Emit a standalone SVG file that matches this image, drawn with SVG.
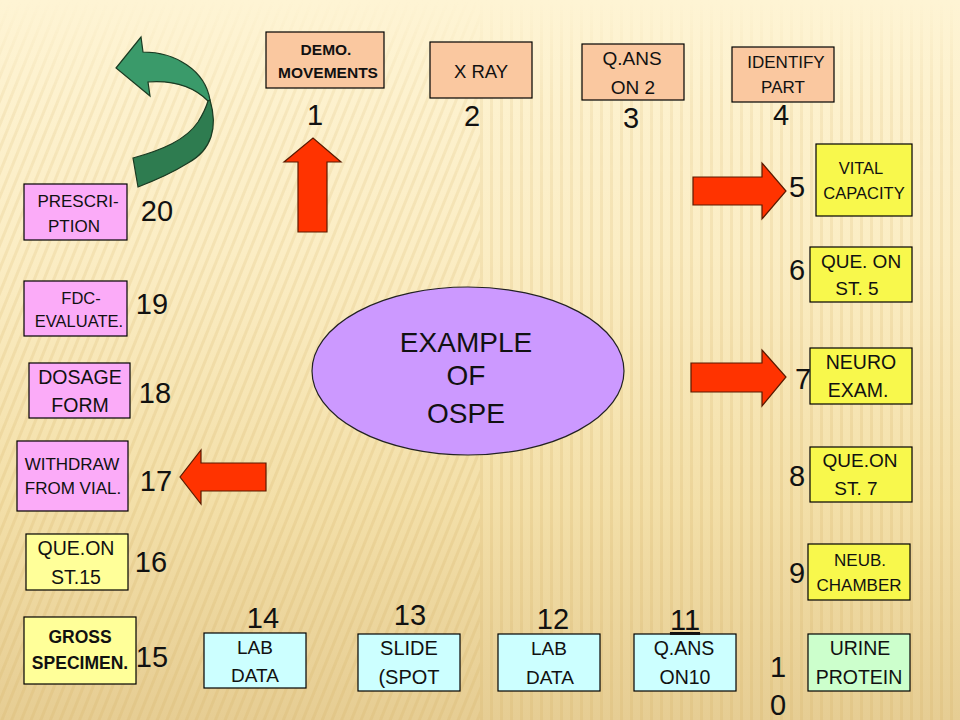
<svg xmlns="http://www.w3.org/2000/svg" width="960" height="720" viewBox="0 0 960 720">
<style>
.box{stroke:#000;stroke-width:1.2}
.peach{fill:#FAC8A0}
.yel{fill:#F8F84C}
.lyel{fill:#FFFF99}
.pink{fill:#FBABF8}
.cyan{fill:#CCFFFF}
.green{fill:#CCFFCC}
.t{font-family:"Liberation Sans",Arial,sans-serif;fill:#111;text-anchor:middle}
.b{font-weight:bold}
.num{font-family:"Liberation Sans",Arial,sans-serif;font-size:29px;fill:#111;text-anchor:middle}
.red{fill:#FF3300;stroke:#5a1a00;stroke-width:1.2;stroke-linejoin:miter}
</style>
<defs>
<linearGradient id="bg" x1="0" y1="0" x2="0" y2="1">
<stop offset="0" stop-color="#FEF4D4"/>
<stop offset="0.35" stop-color="#FBEDC4"/>
<stop offset="0.7" stop-color="#F3DFA8"/>
<stop offset="1" stop-color="#E6CD93"/>
</linearGradient>
<pattern id="stripes" width="9" height="9" patternUnits="userSpaceOnUse" patternTransform="rotate(22)">
<rect x="0" y="0" width="3" height="9" fill="#D9B870"/>
</pattern>
<pattern id="vstripes" width="10" height="10" patternUnits="userSpaceOnUse">
<rect x="0" y="0" width="3" height="10" fill="#D9B870"/>
</pattern>
<linearGradient id="fade" x1="0" y1="0" x2="0" y2="1">
<stop offset="0" stop-color="#fff" stop-opacity="0"/>
<stop offset="0.15" stop-color="#fff" stop-opacity="0.6"/>
<stop offset="1" stop-color="#fff" stop-opacity="1"/>
</linearGradient>
<mask id="m"><rect width="960" height="720" fill="url(#fade)"/></mask>
</defs>
<rect width="960" height="720" fill="url(#bg)"/>
<g mask="url(#m)" opacity="0.3">
<rect x="0" y="0" width="480" height="720" fill="url(#stripes)"/>
<rect x="480" y="0" width="480" height="720" fill="url(#vstripes)"/>
</g>

<g id="connectors">
<path id="green-arrow-top" d="M143,52 C175,52 205,70 210,100 L208,101 C195,88 175,80 148,82 L150,96 L116,68 L141,37 Z" fill="#3A9A6A" stroke="#1a3a22" stroke-width="1.2"/>
<path id="green-arrow-bottom" d="M210,100 C218,127 212,150 188,163 C172,173 156,180 138,187 L133,158 C162,150 186,140 198,122 C203,114 206,108 208,101 Z" fill="#2E7C50" stroke="#1a3a22" stroke-width="1.2"/>
<path id="arrow-up-1" class="red" d="M298,232 L298,162 L284,162 L313,138 L341,162 L327,162 L327,232 Z"/>
<path id="arrow-right-5" class="red" d="M693,177 L762,177 L762,163 L786,191 L762,219 L762,205 L693,205 Z"/>
<path id="arrow-right-7" class="red" d="M691,363 L762,363 L762,350 L786,377 L762,406 L762,392 L691,392 Z"/>
<path id="arrow-left-17" class="red" d="M266,463 L201,463 L201,450 L180,477 L201,504 L201,491 L266,491 Z"/>
</g>

<g id="center">
<ellipse cx="468" cy="371" rx="156" ry="84" fill="#CC99FF" stroke="#222" stroke-width="1.2"/>
<text class="t" font-size="28" x="466" y="352">EXAMPLE</text>
<text class="t" font-size="28" x="466" y="385">OF</text>
<text class="t" font-size="28" x="466" y="423">OSPE</text>
</g>

<g id="n1">
<rect class="box peach" x="266" y="32" width="118" height="56"/>
<text class="t b" font-size="15.5" x="326" y="55">DEMO.</text>
<text class="t b" font-size="15.5" x="328" y="78">MOVEMENTS</text>
<text class="num" font-size="26" x="315" y="125">1</text>
</g>
<g id="n2">
<rect class="box peach" x="430" y="42" width="102" height="56"/>
<text class="t" font-size="18.5" x="481" y="78">X RAY</text>
<text class="num" x="472" y="126">2</text>
</g>
<g id="n3">
<rect class="box peach" x="582" y="44" width="102" height="56"/>
<text class="t" font-size="19" x="632" y="65">Q.ANS</text>
<text class="t" font-size="19" x="633" y="94">ON 2</text>
<text class="num" x="631" y="128">3</text>
</g>
<g id="n4">
<rect class="box peach" x="732" y="47" width="102" height="55"/>
<text class="t" font-size="17" x="786" y="68">IDENTIFY</text>
<text class="t" font-size="17" x="783" y="93">PART</text>
<text class="num" x="781" y="125">4</text>
</g>
<g id="n5">
<rect class="box yel" x="816" y="144" width="96" height="72"/>
<text class="t" font-size="16.5" x="861" y="174">VITAL</text>
<text class="t" font-size="16.5" x="864" y="199">CAPACITY</text>
<text class="num" x="797" y="197">5</text>
</g>
<g id="n6">
<rect class="box yel" x="810" y="247" width="102" height="55"/>
<text class="t" font-size="19" x="861" y="268">QUE. ON</text>
<text class="t" font-size="19" x="857" y="295">ST. 5</text>
<text class="num" x="797" y="280">6</text>
</g>
<g id="n7">
<text class="num" x="803" y="389">7</text>
<rect class="box yel" x="810" y="348" width="102" height="56"/>
<text class="t" font-size="19.5" x="861" y="369">NEURO</text>
<text class="t" font-size="19.5" x="858" y="397">EXAM.</text>
</g>
<g id="n8">
<rect class="box yel" x="810" y="447" width="102" height="55"/>
<text class="t" font-size="19" x="860" y="467">QUE.ON</text>
<text class="t" font-size="19" x="856" y="495">ST. 7</text>
<text class="num" x="797" y="486">8</text>
</g>
<g id="n9">
<rect class="box yel" x="808" y="544" width="102" height="56"/>
<text class="t" font-size="17" x="860" y="566">NEUB.</text>
<text class="t" font-size="17" x="859" y="591">CHAMBER</text>
<text class="num" x="797" y="583">9</text>
</g>
<g id="n10">
<rect class="box green" x="808" y="634" width="102" height="57"/>
<text class="t" font-size="19.5" x="860" y="655">URINE</text>
<text class="t" font-size="19.5" x="859" y="684">PROTEIN</text>
<text class="num" x="778" y="677">1</text>
<text class="num" x="778" y="715">0</text>
</g>
<g id="n11">
<rect class="box cyan" x="634" y="634" width="102" height="57"/>
<text class="t" font-size="19.5" x="684" y="655">Q.ANS</text>
<text class="t" font-size="19.5" x="685" y="684">ON10</text>
<text class="num" x="685" y="630" text-decoration="underline">11</text>
</g>
<g id="n12">
<rect class="box cyan" x="498" y="634" width="102" height="57"/>
<text class="t" font-size="19" x="549" y="655">LAB</text>
<text class="t" font-size="19" x="550" y="684">DATA</text>
<text class="num" x="553" y="629">12</text>
</g>
<g id="n13">
<rect class="box cyan" x="358" y="634" width="102" height="57"/>
<text class="t" font-size="20" x="409" y="655">SLIDE</text>
<text class="t" font-size="20" x="409" y="684">(SPOT</text>
<text class="num" x="410" y="625">13</text>
</g>
<g id="n14">
<rect class="box cyan" x="204" y="633" width="102" height="55"/>
<text class="t" font-size="19" x="255" y="654">LAB</text>
<text class="t" font-size="19" x="255" y="682">DATA</text>
<text class="num" x="263" y="628">14</text>
</g>
<g id="n15">
<rect class="box lyel" x="24" y="617" width="112" height="67"/>
<text class="t b" font-size="17.5" x="80" y="643">GROSS</text>
<text class="t b" font-size="17.5" x="80" y="669">SPECIMEN.</text>
<text class="num" x="152" y="667">15</text>
</g>
<g id="n16">
<rect class="box lyel" x="26" y="534" width="102" height="56"/>
<text class="t" font-size="19.5" x="76" y="555">QUE.ON</text>
<text class="t" font-size="19.5" x="76" y="584">ST.15</text>
<text class="num" x="151" y="572">16</text>
</g>
<g id="n17">
<rect class="box pink" x="17" y="441" width="111" height="70"/>
<text class="t" font-size="17" x="72" y="470">WITHDRAW</text>
<text class="t" font-size="17" x="73" y="494">FROM VIAL.</text>
<text class="num" x="156" y="491">17</text>
</g>
<g id="n18">
<rect class="box pink" x="29" y="363" width="101" height="55"/>
<text class="t" font-size="19.5" x="80" y="384">DOSAGE</text>
<text class="t" font-size="19.5" x="80" y="412">FORM</text>
<text class="num" x="155" y="403">18</text>
</g>
<g id="n19">
<rect class="box pink" x="24" y="281" width="103" height="55"/>
<text class="t" font-size="16.5" x="81" y="304">FDC-</text>
<text class="t" font-size="16.5" x="79" y="327">EVALUATE.</text>
<text class="num" x="152" y="314">19</text>
</g>
<g id="n20">
<rect class="box pink" x="24" y="184" width="103" height="56"/>
<text class="t" font-size="17" x="78" y="207">PRESCRI-</text>
<text class="t" font-size="17" x="74" y="232">PTION</text>
<text class="num" x="157" y="221">20</text>
</g>
</svg>
